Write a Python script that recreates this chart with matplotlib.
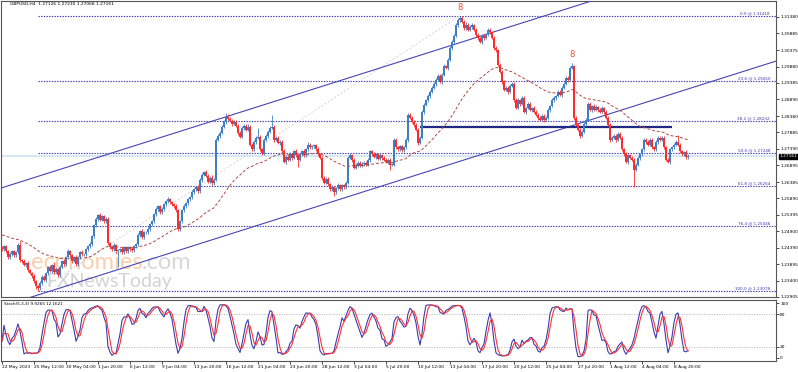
import numpy as np
import pandas as pd
import matplotlib
matplotlib.use("Agg")
import matplotlib.pyplot as plt

# GBPUSD H4 closes, in pips above 1.2000 (one per bar)
closes_pips = [
    435, 444, 429, 411, 420, 429, 417, 426, 447, 402,
    399, 387, 393, 372, 363, 354, 338, 323, 317, 332,
    351, 342, 363, 381, 369, 387, 366, 375, 357, 381,
    399, 390, 411, 429, 417, 399, 411, 390, 411, 426,
    420, 420, 435, 444, 450, 474, 507, 528, 538, 525,
    535, 520, 528, 453, 441, 435, 447, 429, 432, 435,
    426, 441, 429, 441, 435, 432, 444, 450, 477, 489,
    471, 486, 486, 495, 510, 519, 541, 556, 565, 547,
    556, 571, 580, 586, 577, 571, 565, 553, 495, 519,
    553, 565, 574, 586, 592, 607, 616, 622, 610, 646,
    661, 670, 658, 640, 652, 634, 646, 767, 779, 788,
    806, 821, 836, 830, 824, 815, 821, 809, 788, 776,
    803, 809, 797, 806, 752, 737, 761, 773, 776, 737,
    725, 767, 779, 791, 803, 806, 767, 773, 758, 761,
    731, 700, 715, 706, 722, 712, 731, 719, 706, 722,
    731, 719, 737, 752, 743, 746, 749, 737, 722, 712,
    652, 637, 649, 631, 616, 622, 607, 619, 628, 616,
    628, 622, 637, 712, 719, 706, 682, 691, 697, 688,
    694, 697, 691, 706, 731, 722, 715, 722, 709, 719,
    712, 706, 700, 706, 691, 691, 767, 743, 737, 746,
    734, 743, 767, 842, 833, 821, 812, 797, 758, 773,
    851, 872, 887, 899, 912, 924, 936, 948, 960, 942,
    963, 990, 984, 1008, 1044, 1062, 1080, 1114, 1129, 1135,
    1123, 1105, 1114, 1099, 1108, 1114, 1099, 1083, 1074, 1062,
    1080, 1074, 1086, 1099, 1092, 1074, 1044, 1038, 993, 972,
    942, 918, 924, 912, 930, 936, 887, 863, 887, 875,
    893, 851, 863, 875, 857, 863, 851, 842, 833, 827,
    839, 827, 833, 857, 869, 887, 893, 899, 912, 903,
    924, 936, 954, 948, 984, 990, 833, 812, 797, 779,
    791, 815, 827, 875, 857, 869, 857, 866, 857, 851,
    863, 851, 833, 812, 767, 773, 779, 767, 785, 773,
    737, 722, 700, 719, 712, 706, 676, 691, 712, 722,
    737, 767, 761, 752, 767, 743, 737, 761, 773, 767,
    773, 743, 706, 700, 737, 743, 752, 761, 752, 731,
    722, 728, 713, 716,
]
upper_wick = [
    6, 4, 5, 3, 6, 4, 5, 3, 6, 12,
    4, 5, 3, 6, 4, 3, 5, 4, 3, 6,
    5, 7, 4, 3, 6, 4, 8, 5, 4, 6,
    3, 5, 4, 6, 3, 5, 4, 7, 3, 5,
    6, 4, 5, 3, 6, 4, 5, 6, 4, 8,
    5, 4, 6, 4, 5, 3, 6, 4, 5, 3,
    6, 4, 5, 3, 4, 6, 4, 5, 6, 4,
    8, 5, 4, 6, 3, 5, 4, 6, 5, 4,
    6, 3, 5, 6, 4, 5, 3, 6, 4, 5,
    4, 6, 3, 5, 4, 6, 5, 3, 6, 4,
    5, 3, 6, 4, 5, 8, 4, 4, 6, 5,
    6, 5, 12, 8, 6, 4, 5, 4, 6, 5,
    4, 6, 5, 7, 4, 5, 6, 4, 27, 5,
    4, 6, 5, 4, 6, 36, 5, 4, 6, 4,
    5, 6, 4, 5, 6, 4, 5, 6, 4, 5,
    4, 6, 5, 8, 4, 6, 5, 4, 6, 5,
    4, 5, 6, 4, 5, 6, 4, 5, 6, 4,
    5, 4, 6, 5, 6, 4, 5, 6, 4, 5,
    6, 4, 5, 6, 4, 5, 6, 4, 5, 6,
    4, 5, 6, 4, 5, 4, 6, 5, 4, 6,
    5, 4, 6, 6, 5, 4, 6, 5, 4, 6,
    5, 6, 4, 5, 6, 4, 5, 6, 4, 6,
    5, 6, 4, 6, 5, 6, 5, 6, 5, 7,
    6, 5, 8, 6, 5, 6, 4, 6, 5, 4,
    6, 5, 4, 6, 5, 4, 6, 5, 4, 6,
    5, 6, 4, 6, 5, 6, 4, 5, 6, 4,
    5, 6, 4, 5, 6, 4, 5, 6, 4, 5,
    6, 4, 5, 6, 4, 5, 6, 4, 5, 6,
    4, 5, 6, 4, 5, 8, 4, 5, 6, 4,
    5, 6, 4, 5, 6, 4, 5, 6, 4, 5,
    6, 4, 5, 6, 4, 5, 6, 4, 5, 6,
    4, 5, 6, 4, 5, 6, 4, 5, 6, 4,
    5, 6, 4, 5, 6, 4, 5, 6, 4, 5,
    6, 4, 5, 6, 4, 5, 6, 4, 21, 5,
    4, 5, 6, 7,
]
lower_wick = [
    4, 6, 5, 7, 4, 5, 6, 4, 5, 6,
    5, 4, 6, 5, 4, 6, 5, 7, 9, 5,
    6, 4, 5, 6, 4, 5, 6, 4, 7, 5,
    4, 6, 5, 4, 6, 7, 4, 5, 6, 4,
    5, 6, 4, 5, 6, 4, 5, 4, 6, 5,
    4, 6, 5, 5, 6, 4, 5, 6, 49, 4,
    5, 6, 4, 5, 6, 4, 5, 6, 4, 5,
    6, 4, 5, 6, 4, 5, 6, 4, 5, 6,
    4, 5, 6, 4, 5, 6, 4, 5, 6, 4,
    5, 6, 4, 5, 6, 4, 5, 6, 4, 5,
    6, 4, 5, 6, 4, 5, 6, 4, 5, 6,
    4, 5, 6, 4, 5, 6, 4, 5, 6, 4,
    5, 6, 4, 5, 6, 4, 5, 6, 4, 5,
    6, 4, 5, 6, 4, 5, 6, 4, 5, 6,
    4, 5, 6, 4, 5, 6, 4, 5, 21, 4,
    5, 6, 4, 5, 6, 4, 5, 6, 4, 5,
    6, 4, 5, 6, 4, 5, 12, 4, 5, 6,
    4, 5, 6, 4, 5, 6, 4, 5, 6, 4,
    5, 6, 4, 5, 6, 4, 5, 6, 4, 5,
    6, 4, 5, 6, 15, 5, 4, 6, 5, 4,
    6, 5, 4, 6, 5, 4, 6, 5, 6, 4,
    5, 6, 4, 5, 6, 4, 5, 6, 4, 5,
    6, 4, 5, 6, 4, 5, 6, 4, 5, 6,
    4, 5, 6, 4, 5, 6, 4, 5, 6, 4,
    5, 6, 4, 5, 6, 4, 5, 6, 4, 5,
    6, 4, 5, 6, 4, 5, 6, 4, 5, 6,
    4, 5, 6, 4, 5, 6, 4, 5, 6, 4,
    5, 6, 4, 5, 6, 4, 5, 6, 4, 5,
    6, 4, 5, 6, 4, 5, 6, 4, 5, 6,
    4, 5, 6, 4, 5, 6, 4, 5, 6, 4,
    5, 6, 4, 5, 6, 4, 5, 6, 4, 5,
    6, 4, 5, 6, 4, 5, 54, 4, 5, 6,
    4, 5, 6, 4, 5, 6, 4, 5, 6, 4,
    5, 6, 4, 5, 6, 4, 5, 6, 4, 5,
    6, 4, 5, 6,
]
first_open_pips = 438

date_labels = ["22 May 2023", "25 May 12:00", "30 May 04:00", "1 Jun 20:00",
               "6 Jun 12:00", "9 Jun 04:00", "13 Jun 20:00", "16 Jun 12:00",
               "21 Jun 04:00", "23 Jun 20:00", "28 Jun 12:00", "3 Jul 04:00",
               "5 Jul 20:00", "10 Jul 12:00", "13 Jul 04:00", "17 Jul 20:00",
               "20 Jul 12:00", "25 Jul 04:00", "27 Jul 20:00", "1 Aug 12:00",
               "4 Aug 04:00", "8 Aug 20:00"]
bars_per_label = 16

price_ticks = [1.31380, 1.30885, 1.30375, 1.29880, 1.29385, 1.28890, 1.28380,
               1.27885, 1.27390, 1.26895, 1.26385, 1.25890, 1.25395, 1.24900,
               1.24390, 1.23895, 1.23400, 1.22905]

fib_levels = [0.0, 23.6, 38.2, 50.0, 61.8, 76.4, 100.0]
fib_high = 1.31418
fib_low = 1.23078
fib_start_bar = 18
fib_high_bar = 229

channel_upper = [(0, 1.26211), (300, 1.31965)]
channel_lower = [(0, 1.22622), (300, 1.28376)]
support = (209, 335, 1.28062)
pattern_marks = [229, 285]

last_quote = [1.27126, 1.27230, 1.27068, 1.27161]
stoch_shown = (9.9265, 12.1621)
ma_seed = 1.2480
ma_period = 50

# ---- build ohlc
c = 1.2 + np.array(closes_pips) / 10000
o = np.r_[1.2 + first_open_pips / 10000, c[:-1]]
h = np.maximum(o, c) + np.array(upper_wick) / 10000
l = np.minimum(o, c) - np.array(lower_wick) / 10000
n = len(c)
x = np.arange(n)

ema = pd.Series(np.r_[ma_seed, c]).ewm(span=ma_period, adjust=False).mean().values[1:]

hs, ls, cs = pd.Series(h), pd.Series(l), pd.Series(c)
hh = hs.rolling(5, min_periods=1).max()
ll = ls.rolling(5, min_periods=1).min()
k = 100 * (cs - ll).rolling(3, min_periods=1).sum() / (hh - ll).rolling(3, min_periods=1).sum()
d = k.rolling(3, min_periods=1).mean()

W, H = 798, 372
fig = plt.figure(figsize=(W / 100, H / 100), dpi=100)
fig.patch.set_facecolor("white")
ax = fig.add_axes([1 / W, 1 - 297 / H, 775 / W, 296 / H])
ax2 = fig.add_axes([1 / W, 1 - 361 / H, 775 / W, 61 / H])

xmax = 387
ax.set_xlim(-0.5, xmax)
ax.set_ylim(1.22935, 1.31863)
ax2.set_xlim(-0.5, xmax)
ax2.set_ylim(-5.5, 105.5)

bull_col = "#3f7fbf"
bear_col = "#ff2a2a"
cols = np.where(c >= o, bull_col, bear_col)

# watermark
ax.text(0.182, 0.118, "economies", transform=ax.transAxes, fontsize=17,
        family="Lato", color="#fbc6a0", ha="right", va="center", alpha=0.85, zorder=1)
ax.text(0.182, 0.118, ".com", transform=ax.transAxes, fontsize=17,
        family="Lato", color="#d2d2d2", ha="left", va="center", alpha=0.85, zorder=1)
ax.text(0.140, 0.052, "FXNewsToday", transform=ax.transAxes, fontsize=14,
        family="Lato", color="#cccccc", ha="center", va="center", alpha=0.85, zorder=1)

# current price line
ax.axhline(last_quote[3], color="#d8e8f2", lw=1.5, zorder=1)

# fibonacci
for lv in fib_levels:
    p = fib_high - (fib_high - fib_low) * lv / 100
    ax.hlines(p, fib_start_bar, xmax, colors="#3a3aa8", linestyles=(0, (1.2, 1.2)), lw=0.8, zorder=2)
    ax.text(384, p + 0.0002, f"{lv:.1f} @ {p:.5f}", fontsize=3, color="#3a3aa8",
            ha="right", va="bottom", zorder=5)
ax.plot([fib_start_bar, fib_high_bar], [fib_low, fib_high], color="#d4d4dc",
        lw=0.7, ls=(0, (2, 2)), zorder=2)

# channel
for (x0, p0), (x1, p1) in (channel_upper, channel_lower):
    slope = (p1 - p0) / (x1 - x0)
    xs = np.array([-1, xmax])
    ax.plot(xs, p0 + slope * (xs - x0), color="#4646b4", lw=0.8, zorder=3)

ax.hlines(support[2], support[0], support[1], colors="#202a80", lw=1.6, zorder=3)

# candles
ax.vlines(x, l, h, colors=cols, lw=0.6, zorder=4)
ax.bar(x, np.maximum(np.abs(c - o), 0.00006), bottom=np.minimum(o, c), width=0.8,
       color=cols, linewidth=0, zorder=4)

ax.plot(x, ema, color="#b04a40", lw=0.7, ls=(0, (3, 2)), zorder=4)

for b in pattern_marks:
    ax.text(b, h[b] + 0.0012, "8", color="#e84a3a", fontsize=6, ha="center", va="bottom", zorder=5)

ax.text(0.012, 0.995, "GBPUSD,H4  " + " ".join(f"{v:.5f}" for v in last_quote),
        transform=ax.transAxes, fontsize=3.2, ha="left", va="top", color="black")

ax.set_xticks([])
ax.yaxis.tick_right()
ax.set_yticks(price_ticks)
ax.set_yticklabels([f"{p:.5f}" for p in price_ticks])
ax.tick_params(axis="y", labelsize=3.2, length=2, width=0.5, pad=1)
ax.annotate(f"{last_quote[3]:.5f}", xy=(1.0, last_quote[3]), xycoords=("axes fraction", "data"),
            xytext=(2.5, 0), textcoords="offset points", fontsize=3.2, color="white",
            va="center", ha="left",
            bbox=dict(boxstyle="square,pad=0.15", fc="black", ec="black"))
for s in ax.spines.values():
    s.set_color("#555555")
    s.set_linewidth(0.8)

# stochastic
ax2.hlines([20, 80], -0.5, xmax, colors="#b8b8b8", linestyles=(0, (1.5, 1.5)), lw=0.6)
ax2.plot(x, k, color="#3c3cb0", lw=0.8)
ax2.plot(x, d, color="#ff3333", lw=0.8)
ax2.text(0.004, 0.96, f"Stoch(5,3,3) {stoch_shown[0]} {stoch_shown[1]}",
         transform=ax2.transAxes, fontsize=3, ha="left", va="top", color="black")
ax2.yaxis.tick_right()
ax2.set_yticks([0, 20, 80, 100])
ax2.set_yticklabels(["0", "20", "80", "100"])
ax2.tick_params(axis="y", labelsize=3.2, length=2, width=0.5, pad=1)
ax2.set_xticks(np.arange(len(date_labels)) * bars_per_label)
ax2.set_xticklabels(date_labels)
ax2.tick_params(axis="x", labelsize=3.2, length=2, width=0.5, pad=1)
for t in ax2.get_xticklabels():
    t.set_ha("left")
for s in ax2.spines.values():
    s.set_color("#555555")
    s.set_linewidth(0.8)

fig.savefig("out.png", dpi=100)
